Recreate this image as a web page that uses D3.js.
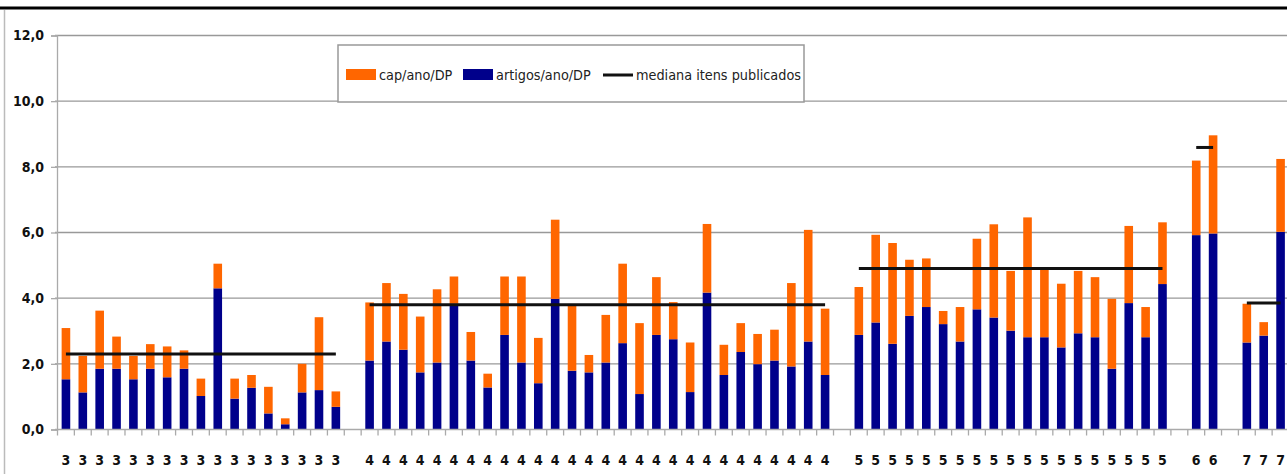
<!DOCTYPE html>
<html>
<head>
<meta charset="utf-8">
<script src="https://cdn.jsdelivr.net/npm/d3@7"></script>
<style>
  body { margin: 0; background: #fff; }
  svg { display: block; }
  text { font-family: "Liberation Sans Narrow", "DejaVu Sans Condensed", sans-serif; }
</style>
</head>
<body>
<svg id="main-vis"></svg>
<script>
// groups shown on the x axis
const grupos = ["3", "4", "5", "6", "7"];

// artigos/ano/DP (blue, bottom segment) per group
const artigos = [
  [1.53, 1.13, 1.85, 1.85, 1.53, 1.85, 1.59, 1.85, 1.02, 4.30, 0.94, 1.27, 0.49, 0.16, 1.13, 1.20, 0.69],
  [2.10, 2.68, 2.43, 1.74, 2.04, 3.83, 2.10, 1.28, 2.88, 2.04, 1.41, 3.98, 1.79, 1.74,
   2.04, 2.63, 1.08, 2.88, 2.75, 1.14, 4.17, 1.66, 2.36, 1.99, 2.10, 1.92, 2.68, 1.66],
  [2.88, 3.26, 2.61, 3.46, 3.73, 3.21, 2.68, 3.66, 3.41, 3.01, 2.81, 2.81, 2.50, 2.93, 2.81, 1.85, 3.85, 2.81, 4.43],
  [5.92, 5.97],
  [2.65, 2.86, 6.02]
];

// cap/ano/DP (orange, stacked on top) per group
const capitulos = [
  [1.56, 1.11, 1.77, 0.98, 0.71, 0.75, 0.94, 0.56, 0.53, 0.75, 0.61, 0.39, 0.81, 0.18, 0.87, 2.22, 0.47],
  [1.77, 1.78, 1.70, 1.70, 2.23, 0.83, 0.87, 0.42, 1.78, 2.62, 1.38, 2.41, 1.98, 0.53,
   1.45, 2.42, 2.16, 1.76, 1.13, 1.51, 2.09, 0.92, 0.88, 0.92, 0.94, 2.54, 3.40, 2.02],
  [1.46, 2.67, 3.07, 1.71, 1.48, 0.40, 1.05, 2.15, 2.84, 1.82, 3.65, 2.05, 1.94, 1.90, 1.83, 2.13, 2.35, 0.92, 1.88],
  [2.27, 2.99],
  [1.18, 0.41, 2.22]
];

// mediana itens publicados per group
const medianas = [2.30, 3.80, 4.90, 8.59, 3.85];

const yTicks = [0, 2, 4, 6, 8, 10, 12];

const width = 1287;
const height = 474;

const svg = d3.select("#main-vis")
  .attr("width", width)
  .attr("height", height);

// flatten into categories, one empty slot between groups
const cats = [];
grupos.forEach((g, gi) => {
  artigos[gi].forEach((a, i) => {
    cats.push({ key: g + "-" + i, grupo: g, gi: gi, artigos: a, cap: capitulos[gi][i] });
  });
  if (gi < grupos.length - 1) cats.push({ key: "gap-" + gi, grupo: "", gi: gi, gap: true });
});

const x = d3.scaleBand()
  .domain(cats.map(d => d.key))
  .range([57.5, 57.5 + cats.length * 16.87])
  .paddingInner(0.49)
  .paddingOuter(0.245);

const y = d3.scaleLinear()
  .domain([0, 12])
  .range([429.5, 35.5]);

// frame
svg.append("line")
  .attr("x1", 0).attr("x2", width)
  .attr("y1", 8).attr("y2", 8)
  .attr("stroke", "#000").attr("stroke-width", 3);
svg.append("line")
  .attr("x1", 4.5).attr("x2", 4.5)
  .attr("y1", 10).attr("y2", height)
  .attr("stroke", "#bbb").attr("stroke-width", 1.5);

// gridlines
svg.append("g")
  .selectAll("line")
  .data(yTicks.filter(d => d > 0))
  .enter()
  .append("line")
  .attr("x1", 55).attr("x2", width)
  .attr("y1", d => y(d)).attr("y2", d => y(d))
  .attr("stroke", "#999").attr("stroke-width", 1.4);

// y axis
const yAxis = svg.append("g")
  .attr("transform", "translate(57,0)")
  .call(d3.axisLeft(y).tickValues(yTicks).tickSize(6).tickPadding(7)
    .tickFormat(d => d3.format(".1f")(d).replace(".", ",")));
yAxis.select(".domain").attr("stroke", "#aaa").attr("stroke-width", 1.3);
yAxis.selectAll(".tick line").attr("stroke", "#aaa").attr("stroke-width", 1.3);
yAxis.selectAll(".tick text")
  .attr("font-size", 14).attr("font-weight", "bold").attr("fill", "#111")
  .attr("font-family", "'Liberation Sans Narrow', 'DejaVu Sans Condensed', sans-serif");

// bars
const bars = svg.append("g");
const data = cats.filter(d => !d.gap);
bars.selectAll("rect.art")
  .data(data)
  .enter()
  .append("rect")
  .attr("class", "art")
  .attr("x", d => x(d.key))
  .attr("width", x.bandwidth())
  .attr("y", d => y(d.artigos))
  .attr("height", d => y(0) - y(d.artigos))
  .attr("fill", "#00008b");
bars.selectAll("rect.cap")
  .data(data)
  .enter()
  .append("rect")
  .attr("class", "cap")
  .attr("x", d => x(d.key))
  .attr("width", x.bandwidth())
  .attr("y", d => y(d.artigos + d.cap))
  .attr("height", d => y(d.artigos) - y(d.artigos + d.cap))
  .attr("fill", "#ff6600");

// x axis
const xAxis = svg.append("g")
  .attr("transform", `translate(0,${y(0)})`);
xAxis.append("line")
  .attr("x1", 55).attr("x2", width)
  .attr("stroke", "#aaa").attr("stroke-width", 1.3);
xAxis.selectAll("line.tick")
  .data(cats)
  .enter()
  .append("line")
  .attr("class", "tick")
  .attr("x1", d => x(d.key) - x.step() * x.paddingInner() / 2)
  .attr("x2", d => x(d.key) - x.step() * x.paddingInner() / 2)
  .attr("y1", 0).attr("y2", 6)
  .attr("stroke", "#aaa").attr("stroke-width", 1.3);
xAxis.selectAll("text")
  .data(cats)
  .enter()
  .append("text")
  .attr("x", d => x(d.key) + x.bandwidth() / 2)
  .attr("y", 35)
  .attr("text-anchor", "middle")
  .attr("font-size", 14)
  .attr("font-weight", "bold")
  .attr("fill", "#111")
  .text(d => d.grupo);

// median lines
svg.append("g")
  .selectAll("line")
  .data(grupos)
  .enter()
  .append("line")
  .attr("x1", (g, gi) => x(g + "-0") + x.bandwidth() / 2)
  .attr("x2", (g, gi) => x(g + "-" + (artigos[gi].length - 1)) + x.bandwidth() / 2)
  .attr("y1", (g, gi) => y(medianas[gi]))
  .attr("y2", (g, gi) => y(medianas[gi]))
  .attr("stroke", "#111")
  .attr("stroke-width", 3);

// legend
const legend = svg.append("g").attr("transform", "translate(338,45)");
legend.append("rect")
  .attr("width", 466).attr("height", 57)
  .attr("fill", "#fff")
  .attr("stroke", "#999").attr("stroke-width", 1.5);

const legendData = [
  { type: "rect", color: "#ff6600", label: "cap/ano/DP", x: 8 },
  { type: "rect", color: "#00008b", label: "artigos/ano/DP", x: 125 },
  { type: "line", color: "#111", label: "mediana itens publicados", x: 265 }
];
legend.selectAll("g")
  .data(legendData)
  .enter()
  .append("g")
  .attr("transform", d => `translate(${d.x}, 30)`)
  .each(function (d) {
    const g = d3.select(this);
    if (d.type === "rect") {
      g.append("rect")
        .attr("y", -6).attr("width", 30).attr("height", 11)
        .attr("fill", d.color);
    } else {
      g.append("line")
        .attr("x1", 0).attr("x2", 30)
        .attr("stroke", d.color).attr("stroke-width", 3);
    }
    g.append("text")
      .attr("x", 33)
      .attr("y", 5)
      .attr("font-size", 14.3)
      .attr("fill", "#222")
      .text(d.label);
  });
</script>
</body>
</html>
